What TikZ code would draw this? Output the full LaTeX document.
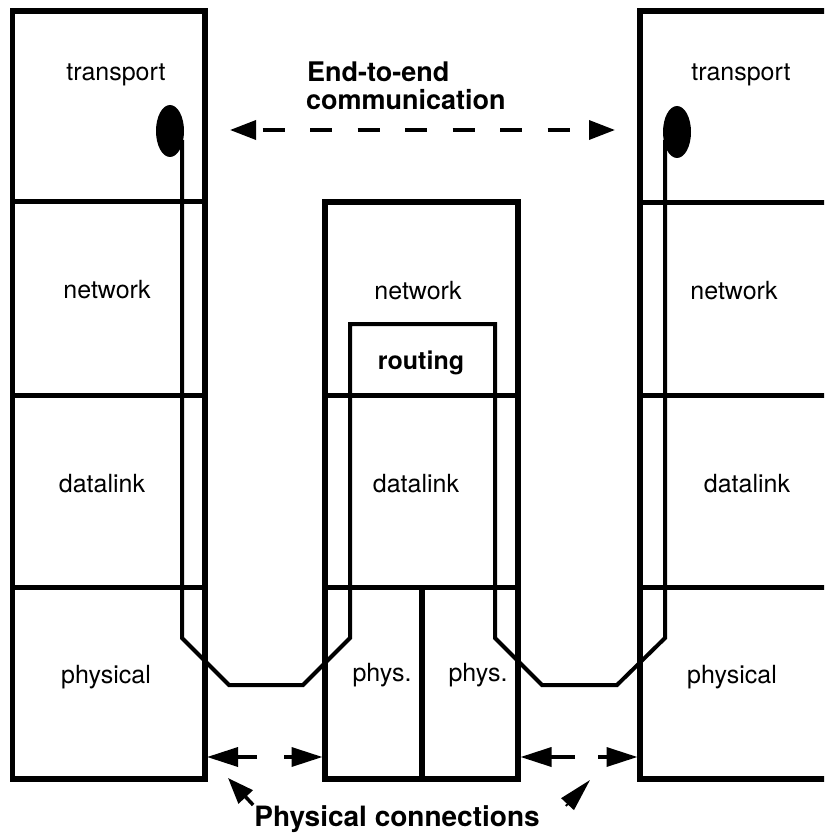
\documentclass[tikz,border=0pt]{standalone}
\usepackage{fontspec}
\setmainfont{TeX Gyre Heros}
\usetikzlibrary{arrows.meta,shapes.geometric}
\begin{document}
\begin{tikzpicture}[x=1pt,y=-1pt,
  frame/.style={line width=5.5pt},
  divider/.style={line width=5pt},
  route/.style={line width=4pt, line join=miter},
  layer/.style={font=\fontsize{25}{28}\selectfont, anchor=base, inner sep=0pt},
  boldlayer/.style={font=\fontsize{25}{28}\selectfont\bfseries, anchor=base, inner sep=0pt},
  caption/.style={font=\fontsize{27}{30}\selectfont\bfseries, anchor=base west, inner sep=0pt},
  endpoint/.style={ellipse, fill=black, minimum width=28pt, minimum height=52pt, inner sep=0pt},
  link/.style={line width=3.5pt, -{Triangle[length=31pt,width=19pt]}},
  e2e/.style={line width=3.5pt, dash pattern=on 22pt off 25.5pt, dash phase=40pt,
    {Triangle[length=26pt,width=19pt]}-{Triangle[length=26pt,width=19pt]}},
  pointer/.style={line width=3.5pt, -{Triangle[length=26pt,width=19pt]}}
]
\useasboundingbox (0,0) rectangle (824,837);
\clip (0,0) rectangle (824,837);

% left host stack
\draw[frame] (12.5,11) rectangle (205,779);
\draw[divider] (12.5,201) -- (205,201) (12.5,395) -- (205,395) (12.5,587) -- (205,587);

% router stack
\draw[frame] (325,202) rectangle (518,779);
\draw[divider] (325,395) -- (518,395) (325,587) -- (518,587);
\draw[frame] (422,587) -- (422,779);

% right host stack
\draw[frame] (640,11) rectangle (860,779);
\draw[divider] (640,202) -- (860,202) (640,395) -- (860,395) (640,587) -- (860,587);

% data path through the stacks, including the routing box
\coordinate (tapL) at (182,140);
\coordinate (tapR) at (665,140);
\draw[route] (tapL) -- (182,638) -- (229,685) -- (303,685) -- (350,638)
  -- (350,324) -- (495,324) -- (495,638) -- (542,685) -- (617,685)
  -- (665,638) -- (tapR);

% transport endpoints
\node[endpoint] (srcL) at (170,131) {};
\node[endpoint] (srcR) at (677,132) {};

% layer labels
\node[layer] (tL) at (116,81) {transport};
\node[layer] (tR) at (741,81) {transport};
\node[layer] (nL) at (107,298) {network};
\node[layer] (nM) at (418,299) {network};
\node[layer] (nR) at (734,299) {network};
\node[boldlayer] (rt) at (421,369) {routing};
\node[layer] (dL) at (102,492) {datalink};
\node[layer] (dM) at (416,492) {datalink};
\node[layer] (dR) at (747,492) {datalink};
\node[layer] (pL) at (106,683) {physical};
\node[layer] (pM1) at (382,681) {phys.};
\node[layer] (pM2) at (478,681) {phys.};
\node[layer] (pR) at (732,683) {physical};

% end-to-end communication
\node[caption] (e2a) at (307,82) {End-to-end};
\node[caption] (e2b) at (306,110) {communication};
\coordinate (eeL) at (230,130);
\coordinate (eeR) at (615,130);
\draw[e2e] (eeL) -- (eeR);

% physical connections
\coordinate (c1) at (257,757);
\coordinate (c2) at (284,757);
\coordinate (c3) at (575,757);
\coordinate (c4) at (598,757);
\coordinate (edgeL) at (207,757);
\coordinate (edgeM1) at (322.5,757);
\coordinate (edgeM2) at (520.5,757);
\coordinate (edgeR) at (637.5,757);
\draw[link] (c1) -- (edgeL);
\draw[link] (c2) -- (edgeM1);
\draw[link] (c3) -- (edgeM2);
\draw[link] (c4) -- (edgeR);

\node[caption, font=\fontsize{28}{30}\selectfont\bfseries, anchor=base] (pc) at (397,826) {Physical connections};
\coordinate (ptL) at (228,778);
\coordinate (ptR) at (590,780);
\draw[pointer] ([xshift=-1pt]pc.north west) -- (ptL);
\draw[line width=2pt, -{Triangle[length=33pt,width=17pt]}] ([xshift=26pt,yshift=-1pt]pc.north east) -- (ptR);
\end{tikzpicture}
\end{document}
